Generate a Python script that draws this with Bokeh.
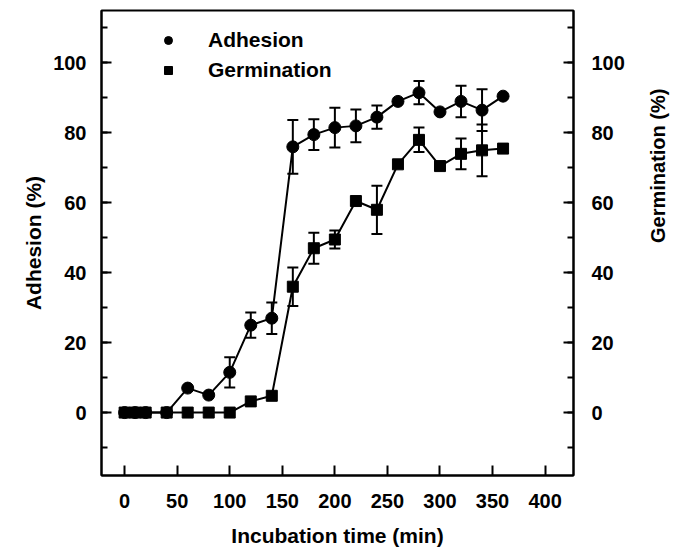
import math
from bokeh.plotting import figure
from bokeh.models import (ColumnDataSource, Whisker, LinearAxis, Range1d,
                          SingleIntervalTicker, Legend, LegendItem, TeeHead)
from bokeh.embed import file_html
from bokeh.resources import INLINE

# ---- data ----
time = [0, 10, 20, 40, 60, 80, 100, 120, 140, 160, 180, 200, 220, 240, 260, 280, 300, 320, 340, 360]
adhesion = [0, 0, 0, 0, 7, 5, 11.5, 25, 27, 76, 79.5, 81.5, 82, 84.5, 89, 91.5, 86, 89, 86.5, 90.5]
adhesion_err = [0, 0, 0, 0, 0, 0, 4.3, 3.6, 4.5, 7.7, 4.4, 5.7, 4.7, 3.3, 0, 3.3, 0, 4.5, 6, 0]
germination = [0, 0, 0, 0, 0, 0, 0, 3.2, 4.8, 36, 47, 49.5, 60.5, 58, 71, 78, 70.5, 74, 75, 75.5]
germination_err = [0, 0, 0, 0, 0, 0, 0, 0, 0, 5.5, 4.4, 2.6, 0, 6.9, 0, 3.5, 0, 4.4, 7.4, 0]
x_label = "Incubation time (min)"
y_label_left = "Adhesion (%)"
y_label_right = "Germination (%)"

FONT = "Liberation Sans"

p = figure(width=682, height=553, output_backend="svg", toolbar_location=None,
           x_range=Range1d(-22, 427), y_range=Range1d(-18, 115),
           min_border_left=101, min_border_right=109, min_border_top=10, min_border_bottom=78,
           x_axis_label=x_label, y_axis_label=y_label_left)
p.extra_y_ranges = {"germ": Range1d(-18, 115)}
p.grid.visible = False
p.outline_line_color = "black"
p.outline_line_width = 2
p.background_fill_color = "white"
p.border_fill_color = "white"

def err_source(xs, ys, es):
    idx = [i for i, e in enumerate(es) if e > 0]
    return ColumnDataSource(dict(x=[xs[i] for i in idx],
                                 upper=[ys[i] + es[i] for i in idx],
                                 lower=[ys[i] - es[i] for i in idx]))

for ys, es in ((adhesion, adhesion_err), (germination, germination_err)):
    w = Whisker(base="x", upper="upper", lower="lower", source=err_source(time, ys, es),
                line_color="black", line_width=2,
                upper_head=TeeHead(size=11, line_width=2, line_color="black"),
                lower_head=TeeHead(size=11, line_width=2, line_color="black"))
    p.add_layout(w)

p.line(time, adhesion, line_color="black", line_width=2)
r_adh = p.scatter(time, adhesion, marker="circle", size=12, fill_color="black", line_color="black")
p.line(time, germination, line_color="black", line_width=2, y_range_name="germ")
r_germ = p.scatter(time, germination, marker="square", size=11, fill_color="black",
                   line_color="black", y_range_name="germ")

right = LinearAxis(y_range_name="germ", axis_label=y_label_right)
p.add_layout(right, "right")

p.xaxis.ticker = SingleIntervalTicker(interval=50, num_minor_ticks=0)
for ax in p.yaxis:
    ax.ticker = SingleIntervalTicker(interval=20, num_minor_ticks=2)

for ax in p.axis:
    ax.axis_line_color = "black"
    ax.axis_line_width = 2
    ax.major_tick_line_color = "black"
    ax.major_tick_line_width = 2
    ax.minor_tick_line_color = "black"
    ax.minor_tick_line_width = 2
    ax.major_tick_in = 10
    ax.major_tick_out = 0
    ax.minor_tick_in = 6
    ax.minor_tick_out = 0
    ax.major_label_text_font = FONT
    ax.major_label_text_font_style = "bold"
    ax.major_label_text_font_size = "20px"
    ax.major_label_text_color = "black"
    ax.axis_label_text_font = FONT
    ax.axis_label_text_font_style = "bold"
    ax.axis_label_text_font_size = "21px"
    ax.axis_label_text_color = "black"

p.yaxis[0].major_label_standoff = 15
p.yaxis[0].axis_label_standoff = 5
p.xaxis.major_label_standoff = 18
p.xaxis.axis_label_standoff = 13
right.major_label_standoff = 18
right.axis_label_standoff = 30
right.axis_label_text_font_size = "20px"
right.axis_label_orientation = math.pi / 2

legend = Legend(items=[LegendItem(label="Adhesion", renderers=[r_adh]),
                       LegendItem(label="Germination", renderers=[r_germ])],
                location=(57, 393), padding=0, margin=0, spacing=6,
                glyph_width=20, glyph_height=20, label_height=20, label_standoff=30,
                label_text_font=FONT, label_text_font_style="bold",
                label_text_font_size="21px", label_text_color="black",
                border_line_color=None, background_fill_alpha=0)
p.add_layout(legend)

open("out.html", "w").write(file_html(p, INLINE))
